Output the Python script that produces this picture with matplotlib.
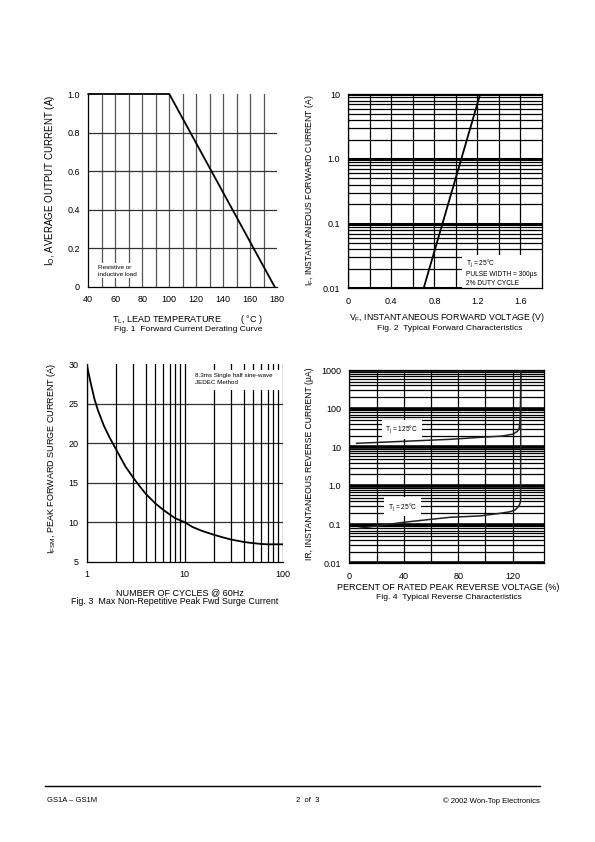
import numpy as np
from matplotlib import pyplot as plt
from matplotlib.ticker import FixedLocator, LogLocator, NullFormatter
from matplotlib.patches import Rectangle
from matplotlib.lines import Line2D

# Fig. 1 - derating curve
lead_temp = [40, 100, 178]
avg_current = [1.0, 1.0, 0.0]

# Fig. 2 - forward characteristics
fwd_voltage = [0.7, 1.225]
fwd_current = [0.01, 10]

# Fig. 3 - surge current
cycles = [1, 1.1, 1.2, 1.3, 1.5, 1.7, 2, 2.5, 3, 3.5, 4, 5, 6, 7, 8, 10,
          12, 15, 20, 25, 30, 40, 50, 60, 70, 80, 100]
surge_current = [30, 27.6, 25.6, 24.2, 22.2, 20.8, 19.2, 17.0, 15.6, 14.5, 13.6, 12.4, 11.6, 11.0, 10.5, 10.0,
                 9.4, 8.9, 8.4, 8.05, 7.8, 7.5, 7.35, 7.25, 7.2, 7.2, 7.2]

# Fig. 4 - reverse characteristics
pct_125 = [5.4, 40, 74, 96, 112, 120.4, 123.5, 124.8, 125.6, 126]
ir_125 = [12.7, 14.3, 16.1, 18.1, 19.5, 22, 26, 31, 60, 1000]
pct_25 = [6.6, 40, 74, 96, 110.6, 118, 121.7, 124.5, 125.8, 126]
ir_25 = [0.08, 0.115, 0.155, 0.168, 0.196, 0.215, 0.24, 0.3, 0.39, 1000]

plt.rcParams['font.family'] = ['Liberation Sans', 'DejaVu Sans']
plt.rcParams['mathtext.fontset'] = 'custom'
plt.rcParams['mathtext.rm'] = 'Liberation Sans'
plt.rcParams['mathtext.it'] = 'Liberation Sans:italic'

W, H = 595, 842
fig = plt.figure(figsize=(W / 100, H / 100), dpi=100)

FS = 6.5
CAP = 6.1


def px_axes(left, top, right, bottom):
    return fig.add_axes([left / W, 1 - bottom / H, (right - left) / W, (bottom - top) / H])


def px_text(x, y, s, **kw):
    kw.setdefault('fontsize', FS)
    kw.setdefault('ha', 'center')
    kw.setdefault('va', 'center')
    fig.text(x / W, 1 - y / H, s, **kw)


def base_style(ax, spines=('left', 'bottom')):
    for name, sp in ax.spines.items():
        sp.set_visible(name in spines)
        sp.set_linewidth(0.9)
        sp.set_color('black')
    ax.tick_params(which='both', length=0, labelsize=FS, pad=6)
    ax.set_axisbelow(True)


# ---------- Fig. 1 ----------
ax1 = px_axes(88.3, 94, 277.3, 286.7)
base_style(ax1)
ax1.set_xlim(40, 180)
ax1.set_ylim(0, 1.0)
ax1.set_xticks([40, 60, 80, 100, 120, 140, 160, 180])
ax1.set_yticks([0, 0.2, 0.4, 0.6, 0.8, 1.0])
ax1.set_yticklabels(['0', '0.2', '0.4', '0.6', '0.8', '1.0'])
for t in range(50, 180, 10):
    ax1.axvline(t, color='#555555', lw=0.9, zorder=0)
for v in [0.2, 0.4, 0.6, 0.8]:
    ax1.axhline(v, color='#333333', lw=0.9, zorder=0)
ax1.plot(lead_temp, avg_current, color='black', lw=1.3, clip_on=False)
ax1.text(0.05, 0.115, 'Resistive or\ninductive load', transform=ax1.transAxes,
         fontsize=4.6, va='top', ha='left', linespacing=1.5,
         bbox=dict(facecolor='white', edgecolor='none', pad=1.0))
px_text(50, 180.7, 'I$_\\mathregular{O}$, AVERAGE OUTPUT CURRENT (A)', rotation=90, fontsize=7.0)
px_text(187, 319, 'T$_\\mathregular{L}$, LEAD TEMPERATURE        ( °C )')
px_text(188.3, 329, 'Fig. 1  Forward Current Derating Curve', fontsize=CAP)

# ---------- Fig. 2 ----------
ax2 = px_axes(348.3, 94.3, 542, 288.3)
base_style(ax2, spines=('left', 'bottom', 'right', 'top'))
ax2.set_yscale('log')
ax2.set_xlim(0, 1.8)
ax2.set_ylim(0.01, 10)
ax2.set_xticks([0, 0.4, 0.8, 1.2, 1.6])
ax2.set_xticklabels(['0', '0.4', '0.8', '1.2', '1.6'])
ax2.yaxis.set_major_locator(FixedLocator([0.01, 0.1, 1, 10]))
ax2.set_yticklabels(['0.01', '0.1', '1.0', '10'])
ax2.yaxis.set_minor_locator(LogLocator(base=10, subs=np.arange(2, 10)))
ax2.yaxis.set_minor_formatter(NullFormatter())
ax2.xaxis.set_minor_locator(FixedLocator(np.arange(0.2, 1.8, 0.2)))
ax2.grid(axis='y', which='major', color='black', lw=2.2)
ax2.grid(axis='y', which='minor', color='black', lw=0.9)
ax2.grid(axis='x', which='both', color='black', lw=0.9)
ax2.add_patch(Rectangle((0.587, 0), 0.413, 0.172, transform=ax2.transAxes,
                        facecolor='white', edgecolor='none', zorder=2))
ax2.text(0.606, 0.158, 'T$_\\mathregular{j}$ = 25°C\nPULSE WIDTH = 300µs\n2% DUTY CYCLE',
         transform=ax2.transAxes, fontsize=4.8, va='top', ha='left', linespacing=1.4, zorder=3)
ax2.plot(fwd_voltage, fwd_current, color='black', lw=1.3, zorder=4)
px_text(310, 190, 'I$_\\mathregular{F}$, INSTANTANEOUS FORWARD CURRENT (A)', rotation=90, fontsize=6.2)
px_text(447.3, 317.3, 'V$_\\mathregular{F}$, INSTANTANEOUS FORWARD VOLTAGE (V)', fontsize=6.3)
px_text(450, 328.8, 'Fig. 2  Typical Forward Characteristics', fontsize=CAP)

# ---------- Fig. 3 ----------
ax3 = px_axes(86.7, 364.3, 282.7, 561.7)
base_style(ax3)
ax3.set_xscale('log')
ax3.set_xlim(1, 100)
ax3.set_ylim(5, 30)
ax3.xaxis.set_major_locator(FixedLocator([1, 10, 100]))
ax3.set_xticklabels(['1', '10', '100'])
ax3.xaxis.set_minor_locator(LogLocator(base=10, subs=np.arange(2, 10)))
ax3.xaxis.set_minor_formatter(NullFormatter())
ax3.set_yticks([5, 10, 15, 20, 25, 30])
ax3.grid(axis='x', which='both', color='black', lw=0.9)
for v in [10, 15, 20, 25]:
    ax3.axhline(v, color='#333333', lw=0.9, zorder=0)
ax3.add_patch(Rectangle((0.527, 0.87), 0.46, 0.103, transform=ax3.transAxes,
                        facecolor='white', edgecolor='none', zorder=2))
ax3.text(0.553, 0.955, '8.3ms Single half sine-wave\nJEDEC Method', transform=ax3.transAxes,
         fontsize=4.5, va='top', ha='left', linespacing=1.4, zorder=3)
ax3.plot(cycles, surge_current, color='black', lw=1.3, zorder=4)
px_text(51.7, 458, 'I$_\\mathregular{FSM}$, PEAK FORWARD SURGE CURRENT (A)', rotation=90)
px_text(180, 592.7, 'NUMBER OF CYCLES @ 60Hz')
px_text(175, 601.9, 'Fig. 3  Max Non-Repetitive Peak Fwd Surge Current', fontsize=6.4)

# ---------- Fig. 4 ----------
ax4 = px_axes(349.3, 370, 544, 563.3)
base_style(ax4, spines=('left', 'bottom', 'right', 'top'))
ax4.set_yscale('log')
ax4.set_xlim(0, 143)
ax4.set_ylim(0.01, 1000)
ax4.set_xticks([0, 40, 80, 120])
ax4.xaxis.set_minor_locator(FixedLocator([20, 60, 100]))
ax4.yaxis.set_major_locator(FixedLocator([0.01, 0.1, 1, 10, 100, 1000]))
ax4.set_yticklabels(['0.01', '0.1', '1.0', '10', '100', '1000'])
ax4.yaxis.set_minor_locator(LogLocator(base=10, subs=np.arange(2, 10)))
ax4.yaxis.set_minor_formatter(NullFormatter())
ax4.grid(axis='y', which='major', color='black', lw=2.6)
ax4.grid(axis='y', which='minor', color='black', lw=0.9)
ax4.grid(axis='x', which='both', color='black', lw=0.9)
ax4.plot(pct_125, ir_125, color='#222222', lw=1.1, zorder=4)
ax4.plot(pct_25, ir_25, color='#222222', lw=1.1, zorder=4)
ax4.text(38.5, 29, 'T$_\\mathregular{j}$ = 125°C', fontsize=4.8, ha='center', va='center',
         bbox=dict(facecolor='white', edgecolor='none', pad=2.5), zorder=3)
ax4.text(39, 0.29, 'T$_\\mathregular{j}$ = 25°C', fontsize=4.8, ha='center', va='center',
         bbox=dict(facecolor='white', edgecolor='none', pad=2.5), zorder=3)
px_text(310, 464, 'IR, INSTANTANEOUS REVERSE CURRENT (µA)', rotation=90, fontsize=6.2)
px_text(448, 587.3, 'PERCENT OF RATED PEAK REVERSE VOLTAGE (%)')
px_text(449, 597.5, 'Fig. 4  Typical Reverse Characteristics', fontsize=CAP)

# ---------- footer ----------
fig.add_artist(Line2D([45 / W, 540 / W], [1 - 786 / H, 1 - 786 / H], color='black', lw=1.0))
px_text(47, 800.7, 'GS1A – GS1M', fontsize=5.5, ha='left')
px_text(307.7, 800.7, '2  of  3', fontsize=5.5)
px_text(540, 800.7, '© 2002 Won-Top Electronics', fontsize=5.5, ha='right')

fig.savefig('out.png', dpi=100, facecolor='white')
